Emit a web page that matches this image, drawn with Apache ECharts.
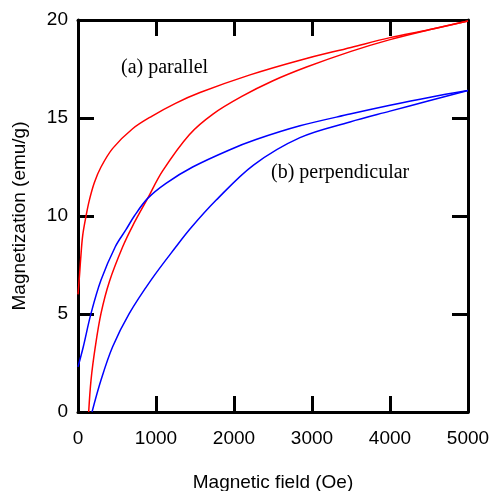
<!DOCTYPE html>
<html>
<head>
<meta charset="utf-8">
<script src="https://cdn.jsdelivr.net/npm/echarts@6/dist/echarts.min.js"></script>
<style>
html, body { margin: 0; padding: 0; background: #fff; }
#main { width: 493px; height: 491px; }
</style>
</head>
<body>
<div id="main"></div>
<script>
// field (Oe), magnetization (emu/g)
var xTicks = [0, 1000, 2000, 3000, 4000, 5000];
var yTicks = [0, 5, 10, 15, 20];

// (a) parallel - red
var redUpper = [[0, 6.0], [20, 7.0], [34, 7.8], [60, 9.0], [103, 10.0], [145, 10.8], [209, 11.7],
  [295, 12.5], [445, 13.45], [700, 14.45], [950, 15.1], [1250, 15.75], [1564, 16.3], [2205, 17.2],
  [2846, 17.95], [3500, 18.6], [4000, 19.1], [4500, 19.5], [5000, 19.95]];
var redLower = [[137, 0], [167, 1.63], [222, 3.33], [295, 5.03], [402, 6.65], [573, 8.43], [701, 9.5],
  [893, 10.9], [1085, 12.3], [1427, 14.15], [1730, 15.2], [2100, 16.1], [2500, 16.9], [2930, 17.6],
  [3500, 18.4], [4000, 19.0], [4500, 19.5], [5000, 19.95]];

// (b) perpendicular - blue
var blueUpper = [[0, 2.3], [68, 3.33], [167, 5.03], [295, 6.73], [478, 8.43], [615, 9.3], [722, 10.0],
  [893, 10.9], [1128, 11.67], [1470, 12.5], [1940, 13.37], [2282, 13.9], [2846, 14.6], [3487, 15.2],
  [4000, 15.65], [4500, 16.05], [5000, 16.4]];
var blueLower = [[180, 0], [295, 1.63], [444, 3.33], [658, 5.03], [936, 6.73], [1256, 8.43], [1449, 9.4],
  [1769, 10.8], [2250, 12.6], [2846, 14.0], [3487, 14.8], [4000, 15.35], [4500, 15.88], [5000, 16.4]];

var chart = echarts.init(document.getElementById('main'));

var axisLine = { show: true, onZero: false, lineStyle: { color: '#000', width: 3 } };
var axisTick = { show: true, inside: true, length: 16, lineStyle: { color: '#000', width: 3 } };
var labelStyle = { color: '#000', fontFamily: 'Liberation Sans', fontSize: 19 };
var plain = function (v) { return String(v); };

function line(data, color) {
  return {
    type: 'line',
    data: data,
    showSymbol: false,
    smooth: 0.35,
    lineStyle: { color: color, width: 1.5 },
    itemStyle: { color: color },
    xAxisIndex: 0,
    yAxisIndex: 0
  };
}

var option = {
  animation: false,
  backgroundColor: '#fff',
  grid: { left: 78, right: 25, top: 20, bottom: 79, containLabel: false, outerBoundsMode: 'none' },
  xAxis: [
    {
      type: 'value', min: xTicks[0], max: xTicks[xTicks.length - 1], interval: 1000,
      name: 'Magnetic field (Oe)', nameLocation: 'middle', nameGap: 61,
      nameTextStyle: labelStyle,
      axisLine: axisLine, axisTick: axisTick, splitLine: { show: false },
      axisLabel: { color: '#000', fontFamily: 'Liberation Sans', fontSize: 19, margin: 17, formatter: plain }
    },
    {
      type: 'value', position: 'top', min: xTicks[0], max: xTicks[xTicks.length - 1], interval: 1000,
      axisLine: axisLine, axisTick: axisTick, splitLine: { show: false }, axisLabel: { show: false }
    }
  ],
  yAxis: [
    {
      type: 'value', min: yTicks[0], max: yTicks[yTicks.length - 1], interval: 5,
      name: 'Magnetization (emu/g)', nameLocation: 'middle', nameGap: 49,
      nameTextStyle: labelStyle,
      axisLine: axisLine, axisTick: axisTick, splitLine: { show: false },
      axisLabel: { color: '#000', fontFamily: 'Liberation Sans', fontSize: 19, margin: 10, formatter: plain }
    },
    {
      type: 'value', position: 'right', min: yTicks[0], max: yTicks[yTicks.length - 1], interval: 5,
      axisLine: axisLine, axisTick: axisTick, splitLine: { show: false }, axisLabel: { show: false }
    }
  ],
  graphic: [
    {
      type: 'text', x: 121, y: 68,
      style: { text: '(a) parallel', fill: '#000', font: '20px "Liberation Serif"', verticalAlign: 'middle' }
    },
    {
      type: 'text', x: 271, y: 173,
      style: { text: '(b) perpendicular', fill: '#000', font: '20px "Liberation Serif"', verticalAlign: 'middle' }
    }
  ],
  series: [
    line(redUpper, '#ff0000'),
    line(redLower, '#ff0000'),
    line(blueUpper, '#0000ff'),
    line(blueLower, '#0000ff')
  ]
};

chart.setOption(option);
</script>
</body>
</html>
